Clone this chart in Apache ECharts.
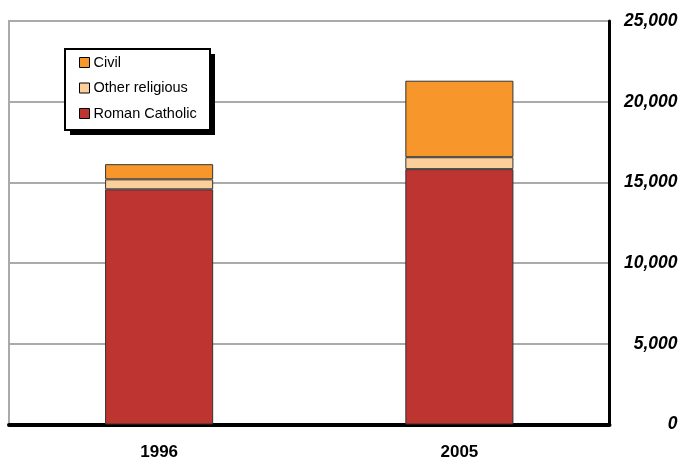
<!DOCTYPE html>
<html>
<head>
<meta charset="utf-8">
<script src="https://cdn.jsdelivr.net/npm/echarts@6/dist/echarts.min.js"></script>
<style>
html,body{margin:0;padding:0;background:#fff;}
#chart{width:681px;height:461px;}
</style>
</head>
<body>
<div id="chart"></div>
<script>
const categories = ['1996', '2005'];
const romanCatholic = [14570, 15820];
const otherReligious = [620, 740];
const civil = [940, 4740];
const seriesNames = ['Roman Catholic', 'Other religious', 'Civil'];
const legendOrder = ['Civil', 'Other religious', 'Roman Catholic'];
const colors = { 'Roman Catholic': '#BE3431', 'Other religious': '#FBCF9A', 'Civil': '#F7962B' };
const seriesValues = [romanCatholic, otherReligious, civil];

const chart = echarts.init(document.getElementById('chart'), null, { renderer: 'canvas' });
const font = '"Liberation Sans", Arial, Helvetica, sans-serif';

chart.setOption({
  animation: false,
  backgroundColor: '#fff',
  textStyle: { fontFamily: font },
  grid: {
    left: 9, right: 71.5, top: 21, bottom: 34.7,
    show: true, borderColor: '#aaaaaa', borderWidth: 2, backgroundColor: 'transparent'
  },
  graphic: [
    { type: 'rect', z: 20, shape: { x: 70, y: 54, width: 145, height: 81 }, style: { fill: '#000' } },
    { type: 'rect', z: 21, shape: { x: 65, y: 49, width: 145, height: 81 }, style: { fill: '#fff', stroke: '#000', lineWidth: 2 } }
  ],
  legend: {
    z: 30,
    data: legendOrder,
    orient: 'vertical',
    left: 79, top: 55,
    padding: 0,
    itemGap: 10.5,
    itemWidth: 10, itemHeight: 10,
    icon: 'rect',
    itemStyle: { borderColor: '#000', borderWidth: 1 },
    textStyle: { fontSize: 14.5, lineHeight: 14, color: '#000', fontFamily: font, padding: [0, 0, 0, -1] },
    selectedMode: false
  },
  xAxis: {
    type: 'category',
    data: categories,
    offset: 0.5,
    axisLine: { show: true, lineStyle: { color: '#000', width: 4 } },
    axisTick: { show: false },
    axisLabel: { fontSize: 17, fontWeight: 'bold', color: '#000', margin: 19, fontFamily: font },
    splitLine: { show: false }
  },
  yAxis: {
    type: 'value',
    position: 'right',
    min: 0, max: 25000, interval: 5000,
    axisLine: { show: true, lineStyle: { color: '#000', width: 3 } },
    axisTick: { show: false },
    axisLabel: {
      fontSize: 17.5, fontWeight: 'bold', fontStyle: 'italic', color: '#000',
      align: 'right', margin: 68, fontFamily: font,
      formatter: v => v.toLocaleString('en-US')
    },
    splitLine: { show: true, lineStyle: { color: '#aaaaaa', width: 2 } }
  },
  series: seriesNames.map((name, i) => ({
    name: name,
    type: 'bar',
    stack: 'total',
    barWidth: '36%',
    data: seriesValues[i],
    itemStyle: { color: colors[name], borderColor: '#333', borderWidth: 1 }
  }))
});
</script>
</body>
</html>
